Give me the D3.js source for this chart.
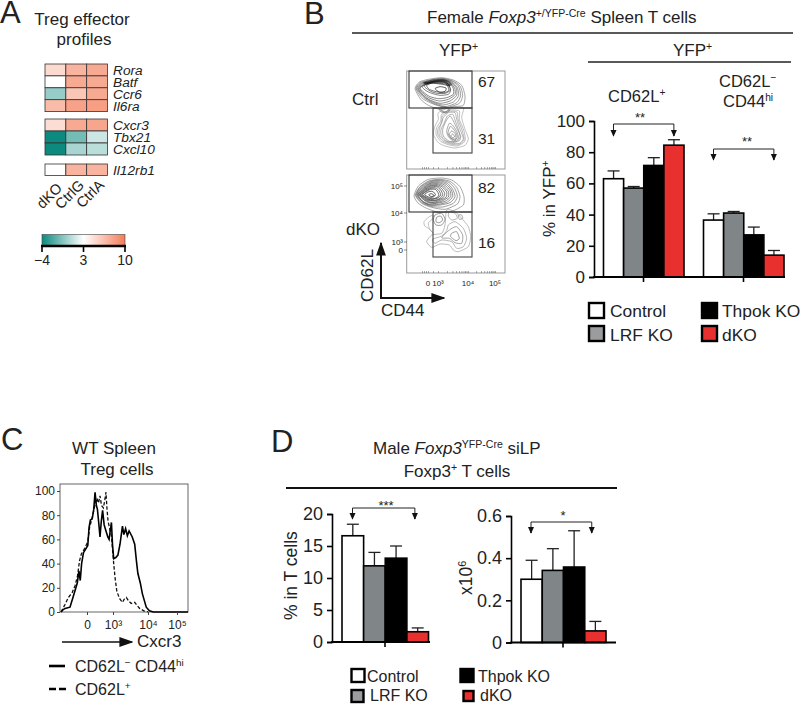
<!DOCTYPE html>
<html><head><meta charset="utf-8">
<script src="https://cdn.jsdelivr.net/npm/d3@7"></script>
<style>
html,body{margin:0;padding:0;background:#fff}
svg{display:block}
text{font-family:"Liberation Sans",Arial,sans-serif;fill:#222}
</style></head><body>
<div id="chart"></div>
<script>
// ---------- Data ----------
const heatGenes = ["Rora","Batf","Ccr6","Il6ra","Cxcr3","Tbx21","Cxcl10","Il12rb1"];
const heatGroups = [[0,1,2,3],[4,5,6],[7]];
const heatSamples = ["dKO","CtrlG","CtrlA"];
const heatValues = [[5,7,7.6],[3,7.6,7.6],[0,6,7.6],[6.6,8,8.2],[4.8,7.6,7.8],[-4,-1,1.5],[-4,0.5,1],[3,7,7]];
const colorTicks = [-4,3,10];

const genotypes = ["Control","LRF KO","Thpok KO","dKO"];
const barColors = ["#ffffff","#808587","#000000","#e8302e"];
const bCD62Lpos = [63,57,71.5,84.5];
const bCD62LposErr = [68,58,76.5,88];
const bCD62Lneg = [36.5,41,27,14];
const bCD62LnegErr = [40.5,42,32,17];
const bTicks = [0,20,40,60,80,100];
const dPct = [16.6,11.9,13.1,1.6];
const dPctErr = [18.4,14,15,2.2];
const dPctTicks = [0,5,10,15,20];
const dCount = [0.30,0.342,0.358,0.055];
const dCountErr = [0.39,0.445,0.53,0.10];
const dCountTicks = [0,0.2,0.4,0.6];

const histSolid = [[-.96,0],[-.88,2],[-.81,3],[-.63,4],[-.52,12],[-.44,18],[-.36,24],[-.3,34],[-.25,26],[-.2,40],[-.13,49],[-.05,52],[.03,55],[.08,70],[.13,76],[.2,77],[.26,85],[.31,99],[.36,88],[.4,85],[.45,74],[.5,62],[.55,75],[.6,84],[.66,72],[.73,67],[.8,62],[.85,60],[.9,68],[.94,74],[.98,56],[1.02,44],[1.08,45],[1.14,47],[1.2,56],[1.27,71],[1.31,64],[1.36,69],[1.41,63],[1.46,67],[1.55,62],[1.62,56],[1.67,42],[1.71,32],[1.78,24],[1.84,15],[1.9,9],[1.95,4],[2.05,1],[2.18,0],[3.41,0]];
const histDashed = [[-.96,0],[-.82,6],[-.69,12],[-.55,16],[-.44,22],[-.35,30],[-.28,42],[-.21,48],[-.1,52],[.03,58],[.1,70],[.19,77],[.28,86],[.38,94],[.44,90],[.5,96],[.56,88],[.63,86],[.68,92],[.73,99],[.77,85],[.81,75],[.88,68],[.94,63],[.98,52],[1.02,40],[1.06,28],[1.11,17],[1.19,11],[1.27,8],[1.33,11],[1.38,12],[1.45,9],[1.52,7],[1.62,8],[1.7,5],[1.76,3],[1.88,1],[2,0]];
const histYTicks = [0,20,40,60,80,100];
const histXTicks = [0,1,2,3];
const histXLabels = ["0","10³","10⁴","10⁵"];

const facsMinor = [-.6,-.4,-.2,0,.5,1,1.3,1.48,1.6,1.7,1.78,1.85,1.9,1.95,2,2.3,2.48,2.6,2.7,2.78,2.85,2.9,2.95,3];
const facsTickLabels = ["0","10³","10⁴","10⁵"];
const ctrlUpper = [
 [[45,68],[58,48],[85,40],[125,35],[160,42],[185,58],[195,90],[190,118],[160,122],[120,130],[85,118],[62,100]],
 [[48,68],[60,50],[88,42],[125,37],[157,44],[180,60],[188,88],[178,112],[140,124],[105,116],[68,98]],
 [[50,68],[62,52],[90,43],[125,38],[155,45],[175,60],[182,88],[170,110],[135,122],[100,112],[72,95]],
 [[53,68],[65,53],[93,45],[125,40],[152,46],[171,63],[176,88],[160,108],[128,117],[95,107],[71,91]],
 [[55,68],[68,54],[95,46],[125,41],[150,47],[168,65],[170,88],[150,105],[120,112],[90,102],[70,88]],
 [[58,67],[72,55],[98,46],[126,42],[149,48],[164,67],[165,86],[145,100],[118,105],[90,97],[71,84]],
 [[60,66],[75,55],[100,47],[127,43],[148,50],[160,68],[160,85],[140,95],[115,98],[90,92],[72,80]],
 [[66,62],[85,52],[110,46],[130,46],[145,55],[152,72],[145,85],[120,88],[95,82],[78,74]],
 [[72,60],[95,50],[120,47],[138,50],[148,62],[150,74],[135,82],[112,82],[92,76]],
 [[80,58],[105,48],[132,48],[143,60],[146,74],[130,80],[105,76],[88,70]],
 [[70,50],[100,42],[135,42],[155,55],[130,50],[100,48]],
 [[72,52],[100,45],[135,45],[152,58],[130,53],[100,50]],
 [[76,54],[102,46],[134,46],[150,60],[128,55],[100,52]],
 [[105,68],[120,62],[138,66],[135,76],[118,78]]
];
const ctrlLower = [
 [[105,180],[100,205],[115,230],[135,240],[165,246],[195,238],[205,218],[195,190],[185,155],[190,125],[150,125],[115,140],[115,160]],
 [[110,185],[108,205],[122,226],[145,236],[172,240],[195,225],[192,195],[178,160],[178,135],[150,132],[125,145],[122,165]],
 [[114,188],[113,206],[128,225],[150,234],[175,236],[192,222],[186,192],[174,160],[171,138],[148,136],[127,150],[126,168]],
 [[118,190],[118,208],[135,225],[155,232],[178,232],[190,218],[180,190],[170,160],[165,140],[145,140],[130,155]],
 [[123,190],[124,209],[141,226],[163,229],[180,222],[178,200],[165,162],[158,145],[142,150],[134,168]],
 [[128,190],[130,210],[148,226],[170,226],[182,212],[172,190],[160,165],[150,150],[138,165]],
 [[140,195],[145,212],[160,225],[175,218],[172,200],[160,180],[148,172]],
 [[144,200],[150,215],[164,222],[172,214],[168,200],[158,186],[150,182]],
 [[148,205],[155,218],[168,218],[165,202],[155,195]],
 [[152,210],[158,215],[164,212],[158,204]],
 [[118,128],[135,122],[150,130],[140,140],[124,138]],
 [[122,130],[135,126],[146,131],[138,137],[127,136]]
];
const dkoUpper = [
 [[42,78],[55,48],[85,28],[125,24],[155,30],[180,50],[192,80],[190,105],[160,122],[120,128],[80,115],[55,100]],
 [[46,76],[60,50],[88,32],[122,28],[150,34],[170,52],[180,80],[172,102],[135,118],[95,112],[65,100]],
 [[48,76],[60,52],[89,34],[120,30],[146,37],[164,55],[172,80],[160,100],[128,111],[92,109],[66,98]],
 [[50,75],[62,54],[90,36],[118,32],[142,40],[158,58],[165,80],[150,98],[120,105],[90,106],[68,96]],
 [[52,74],[64,56],[90,39],[116,35],[139,43],[154,60],[158,80],[142,96],[115,103],[88,104],[67,94]],
 [[54,74],[66,58],[90,41],[115,38],[135,46],[150,62],[152,80],[135,94],[110,100],[85,102],[66,92]],
 [[56,74],[68,59],[90,44],[113,41],[131,49],[145,64],[145,81],[126,93],[102,99],[80,96]],
 [[58,74],[70,60],[90,47],[112,44],[128,52],[140,66],[138,82],[118,92],[95,98],[74,90]],
 [[60,74],[72,61],[91,49],[111,47],[125,56],[134,70],[129,83],[109,92],[88,93],[77,89]],
 [[62,74],[74,62],[92,52],[110,50],[122,60],[128,74],[120,85],[100,92],[80,88]],
 [[65,74],[76,64],[92,55],[108,54],[118,64],[122,76],[111,85],[92,89],[82,86]],
 [[68,74],[78,65],[92,58],[106,58],[114,68],[116,78],[102,86],[84,84]],
 [[74,74],[84,66],[96,64],[106,72],[102,80],[88,82]],
 [[86,74],[94,71],[102,76],[94,80]]
];
const dkoLower = [
 [[72,155],[85,142],[100,135],[95,150],[85,158],[88,175],[100,190],[85,175],[74,168]],
 [[140,120],[165,125],[185,145],[205,170],[212,200],[205,230],[175,245],[160,240],[148,225],[120,222],[95,232],[80,215],[95,195],[125,190],[135,165]],
 [[145,165],[165,155],[190,175],[200,205],[190,230],[170,235],[155,215],[125,210],[105,220],[98,208],[125,198],[140,182]],
 [[148,125],[165,130],[172,145],[155,150],[145,138]],
 [[175,135],[185,135],[188,145],[178,148]],
 [[148,180],[170,170],[188,195],[185,220],[165,218],[148,205],[125,203]],
 [[155,190],[170,185],[178,205],[168,212],[152,200]],
 [[105,135],[125,130],[135,148],[125,165],[108,165],[100,150]],
 [[110,142],[122,138],[128,150],[118,158],[108,155]]
];

// ---------- Helpers ----------
const svg = d3.select("#chart").append("svg").attr("width",800).attr("height",704).attr("viewBox","0 0 800 704");
const defs = svg.append("defs");
function addText(x,y,parts,size,opt={}){
  const t = svg.append("text").attr("x",x).attr("y",y).attr("font-size",size)
    .attr("text-anchor",opt.anchor||"start");
  if(opt.rotate!==undefined) t.attr("transform",`rotate(${opt.rotate} ${x} ${y})`);
  if(opt.italic) t.attr("font-style","italic");
  (Array.isArray(parts)?parts:[parts]).forEach(p=>{
    if(typeof p==="string"){ t.append("tspan").text(p); return; }
    const s = t.append("tspan").text(p.t);
    if(p.i) s.attr("font-style","italic");
    if(p.sup){ s.attr("font-size",size*0.62).attr("dy",-size*0.36); }
    if(p.base){ s.attr("dy",size*0.36); }
  });
  return t;
}
function hline(x1,x2,y,w=1.5,c="#222"){svg.append("line").attr("x1",x1).attr("x2",x2).attr("y1",y).attr("y2",y).attr("stroke",c).attr("stroke-width",w);}
defs.append("marker").attr("id","ah").attr("viewBox","0 0 10 10").attr("refX",9).attr("refY",5)
  .attr("markerWidth",7).attr("markerHeight",7).attr("markerUnits","userSpaceOnUse").attr("orient","auto")
  .append("path").attr("d","M0,0.5L10,5L0,9.5Z").attr("fill","#111");
defs.append("marker").attr("id","ahBig").attr("viewBox","0 0 10 10").attr("refX",9).attr("refY",5)
  .attr("markerWidth",14).attr("markerHeight",14).attr("markerUnits","userSpaceOnUse").attr("orient","auto")
  .append("path").attr("d","M0,1.5L10,5L0,8.5Z").attr("fill","#111");

// ---------- Panel letters ----------
addText(0,23,"A",31); addText(304,24,"B",31); addText(1,450,"C",31); addText(271,452,"D",31);

// ---------- A: heat map ----------
addText(82,25,"Treg effector",17,{anchor:"middle"});
addText(84,45,"profiles",17,{anchor:"middle"});
const heatColor = d3.scaleLinear().domain([-4,3,10]).range(["#0c8a7f","#ffffff","#f47c58"]);
const heatX = d3.scaleBand().domain(heatSamples).range([45,107.5]);
const groupTop = [64,119,164], rowH = [11.9,12,11.5];
heatGroups.forEach((rows,gi)=>{
  const y = d3.scaleBand().domain(rows).range([groupTop[gi],groupTop[gi]+rows.length*rowH[gi]]);
  rows.forEach(r=>{
    heatSamples.forEach((s,c)=>{
      svg.append("rect").attr("x",heatX(s)).attr("y",y(r)).attr("width",heatX.bandwidth()).attr("height",y.bandwidth())
        .attr("fill",heatColor(heatValues[r][c])).attr("stroke","#333").attr("stroke-width",0.8);
    });
    addText(113,y(r)+y.bandwidth()/2+5,heatGenes[r],13.7,{italic:true});
  });
});
[[63,189],[85,186],[105,186]].forEach((p,i)=>addText(p[0],p[1],heatSamples[i],14.5,{anchor:"end",rotate:-45}));
const lg = defs.append("linearGradient").attr("id","cbar");
[[0,"#0c8a7f"],[0.5,"#ffffff"],[1,"#f47c58"]].forEach(s=>lg.append("stop").attr("offset",s[0]).attr("stop-color",s[1]));
svg.append("rect").attr("x",42).attr("y",234.5).attr("width",83).attr("height",11.5).attr("fill","url(#cbar)").attr("stroke","#444").attr("stroke-width",.6);
hline(41,126,246,2.4,"#000");
const cbTickPos = d3.scalePoint().domain(colorTicks).range([42,125]);
colorTicks.forEach(t=>{
  const x = cbTickPos(t);
  svg.append("line").attr("x1",x).attr("x2",x).attr("y1",246).attr("y2",252).attr("stroke","#000").attr("stroke-width",1.6);
  addText(x,265,t<0?"−"+Math.abs(t):String(t),14,{anchor:"middle"});
});

// ---------- B: header ----------
addText(427,23,["Female ",{t:"Foxp3",i:true},{t:"+/YFP-Cre",sup:true},{t:" Spleen T cells",base:true}],17);
hline(352,793,33,1.6);
addText(439,56,["YFP",{t:"+",sup:true}],17);
addText(673,56,["YFP",{t:"+",sup:true}],17);
hline(588,791,62,1.6);
addText(352,105,"Ctrl",17);
addText(346,235,"dKO",17);

// ---------- B: contour plots ----------
const facsX = d3.scaleLinear().domain([20,315]).range([406.7,505]);
const facsDecX = d3.scaleLinear().domain([-1,0,1,2,3]).range([418,428,438,468,495]);
[{top:71,upper:ctrlUpper,lower:ctrlLower,gateSplit:108,gateBottom:153},{top:175,upper:dkoUpper,lower:dkoLower,gateSplit:212,gateBottom:257}].forEach(p=>{
  const sy = d3.scaleLinear().domain([15,309]).range([p.top,p.top+98]);
  svg.append("rect").attr("x",406.7).attr("y",p.top).attr("width",98.3).attr("height",98).attr("fill","#fff").attr("stroke","#999").attr("stroke-width",1);
  const line = d3.line().x(d=>facsX(d[0])).y(d=>sy(d[1])).curve(d3.curveCardinalClosed.tension(0.35));
  svg.append("g").selectAll("path").data(p.lower).join("path").attr("d",line).attr("fill","none")
    .attr("stroke",(d,i)=>d3.interpolateRgb("#999","#444")(i/p.lower.length)).attr("stroke-width",.6);
  svg.append("g").selectAll("path").data(p.upper).join("path").attr("d",line).attr("fill","none")
    .attr("stroke",(d,i)=>d3.interpolateRgb("#777","#000")(i/p.upper.length)).attr("stroke-width",.65);
  svg.append("rect").attr("x",409).attr("y",p.top).attr("width",63).attr("height",p.gateSplit-p.top).attr("fill","none").attr("stroke","#333").attr("stroke-width",1.1);
  svg.append("rect").attr("x",433).attr("y",p.gateSplit).attr("width",39).attr("height",p.gateBottom-p.gateSplit).attr("fill","none").attr("stroke","#444").attr("stroke-width",1.1);
  svg.append("g").attr("transform",`translate(0,${p.top+98})`).call(d3.axisTop(facsDecX).tickValues(facsMinor).tickSize(2).tickFormat(""))
    .call(g=>g.select(".domain").remove()).selectAll("line").attr("stroke","#555").attr("stroke-width",.5);
});
[["67",87],["31",144],["82",193],["16",248]].forEach(d=>addText(478,d[1],d[0],15.5));
[0,1,2,3].forEach(i=>addText(facsDecX(i),286,facsTickLabels[i],8,{anchor:"middle"}));
const facsDecY = d3.scaleLinear().domain([0,1,2,3]).range([250,242,213,186]);
[0,1,2,3].forEach(i=>{
  addText(403,facsDecY(i)+3,facsTickLabels[i],8,{anchor:"end"});
  svg.append("line").attr("x1",404).attr("x2",407).attr("y1",facsDecY(i)).attr("y2",facsDecY(i)).attr("stroke","#444").attr("stroke-width",.6);
});
svg.append("line").attr("x1",381).attr("y1",299).attr("x2",381).attr("y2",243).attr("stroke","#111").attr("stroke-width",2).attr("marker-end","url(#ahBig)");
svg.append("line").attr("x1",380).attr("y1",298).attr("x2",444).attr("y2",298).attr("stroke","#111").attr("stroke-width",2).attr("marker-end","url(#ahBig)");
addText(373,302,"CD62L",17,{rotate:-90});
addText(381,316,"CD44",17);

// ---------- bar helpers ----------
const idx = [0,1,2,3];
function barGroup(x,y,values,errs){
  const g = svg.append("g");
  values.forEach((v,i)=>{
    const cx = x(i)+x.bandwidth()/2;
    g.append("line").attr("x1",cx).attr("x2",cx).attr("y1",y(v)).attr("y2",y(errs[i])).attr("stroke","#222").attr("stroke-width",1.3);
    g.append("line").attr("x1",cx-6).attr("x2",cx+6).attr("y1",y(errs[i])).attr("y2",y(errs[i])).attr("stroke","#222").attr("stroke-width",1.3);
    g.append("rect").attr("x",x(i)).attr("y",y(v)).attr("width",x.bandwidth()).attr("height",y(0)-y(v))
      .attr("fill",barColors[i]).attr("stroke","#000").attr("stroke-width",1.6);
  });
}
function bracket(x1,x2,y,yEnd,stars,sy,sx){
  svg.append("path").attr("d",`M${x1},${yEnd}V${y}H${x2}V${yEnd}`).attr("fill","none").attr("stroke","#222").attr("stroke-width",1);
  [x1,x2].forEach(x=>svg.append("line").attr("x1",x).attr("x2",x).attr("y1",yEnd-4).attr("y2",yEnd).attr("stroke","#111").attr("marker-end","url(#ah)"));
  addText(sx,sy,stars,13,{anchor:"middle"});
}
function leftAxis(y,x0,ticks,fmt,size,xEnd){
  const g = svg.append("g").attr("transform",`translate(${x0},0)`)
    .call(d3.axisLeft(y).tickValues(ticks).tickSize(5).tickPadding(4).tickFormat(fmt));
  g.selectAll("path,line").attr("stroke","#000").attr("stroke-width",1.6);
  g.selectAll("text").attr("font-size",size).attr("font-family","Liberation Sans");
  hline(x0-.8,xEnd,y(0),1.8,"#000");
}
function groupTick(x,y){svg.append("line").attr("x1",x).attr("x2",x).attr("y1",y).attr("y2",y+5).attr("stroke","#000").attr("stroke-width",1.6);}
function legendBox(x,y,w,h,c,label,tx,ty,size){
  svg.append("rect").attr("x",x).attr("y",y).attr("width",w).attr("height",h).attr("fill",c).attr("stroke","#000").attr("stroke-width",2.4);
  addText(tx,ty,label,size);
}

// ---------- B: bars ----------
const byScale = d3.scaleLinear().domain([0,100]).range([277,121]);
const bx1 = d3.scaleBand().domain(idx).range([603.5,684]);
const bx2 = d3.scaleBand().domain(idx).range([703.5,784]);
barGroup(bx1,byScale,bCD62Lpos,bCD62LposErr);
barGroup(bx2,byScale,bCD62Lneg,bCD62LnegErr);
leftAxis(byScale,594,bTicks,d3.format("d"),17,785);
groupTick(643.5,277); groupTick(743.5,277);
addText(555,237,["% in YFP",{t:"+",sup:true}],17,{rotate:-90});
addText(608,102,["CD62L",{t:"+",sup:true}],16.5);
addText(719,87,["CD62L",{t:"−",sup:true}],16.5);
addText(723,107,["CD44",{t:"hi",sup:true}],16.5);
bracket(bx1(0)+10,bx1(3)+10,124,136,"**",122,640);
bracket(bx2(0)+10,bx2(3)+10,149,160,"**",146,747);
const bLegendSlots = [[589,303,610,317],[589,326,610,341],[702,303,722,317],[702,326,722,341]];
const legendFillB = ["#ffffff","#9a9c9e","#000000","#e8302e"];
genotypes.forEach((g,i)=>{const s=bLegendSlots[i];legendBox(s[0],s[1],15,15,legendFillB[i],g,s[2],s[3],17.4);});

// ---------- C: histogram ----------
addText(114,454,"WT Spleen",17,{anchor:"middle"});
addText(117,475,"Treg cells",17,{anchor:"middle"});
const hx = d3.scaleLinear().domain([-1,0,1,2,3,3.41]).range([60,87,113,148,177,188]);
const hy = d3.scaleLinear().domain([0,100]).range([612,491]);
svg.append("rect").attr("x",60).attr("y",484).attr("width",128).attr("height",128).attr("fill","#fff").attr("stroke","#555").attr("stroke-width",.9);
const hLine = d3.line().x(d=>hx(d[0])).y(d=>hy(d[1]));
svg.append("path").attr("d",hLine(histDashed)).attr("fill","none").attr("stroke","#111").attr("stroke-width",1.3).attr("stroke-dasharray","3.5,2");
svg.append("path").attr("d",hLine(histSolid)).attr("fill","none").attr("stroke","#000").attr("stroke-width",1.6);
const hya = svg.append("g").attr("transform","translate(60,0)").call(d3.axisLeft(hy).tickValues(histYTicks).tickSize(3).tickPadding(2));
hya.select(".domain").remove();
hya.selectAll("line").attr("stroke","#444");
hya.selectAll("text").attr("font-size",12).attr("font-family","Liberation Sans");
const hxa = svg.append("g").attr("transform","translate(0,612)").call(d3.axisBottom(hx).tickValues(histXTicks).tickSize(3).tickPadding(5).tickFormat((d,i)=>histXLabels[i]));
hxa.select(".domain").remove();
hxa.selectAll("line").attr("stroke","#444");
hxa.selectAll("text").attr("font-size",12).attr("font-family","Liberation Sans");
svg.append("line").attr("x1",62).attr("x2",132).attr("y1",642).attr("y2",642).attr("stroke","#111").attr("stroke-width",1.3).attr("marker-end","url(#ahBig)");
addText(137,647,"Cxcr3",17);
hline(49,65,666,2.6,"#000");
addText(75,672,["CD62L",{t:"−",sup:true},{t:" CD44",base:true},{t:"hi",sup:true}],16);
svg.append("line").attr("x1",49).attr("x2",66).attr("y1",689).attr("y2",689).attr("stroke","#000").attr("stroke-width",2.6).attr("stroke-dasharray","7,3");
addText(75,695,["CD62L",{t:"+",sup:true}],16);

// ---------- D: header ----------
addText(373,454,["Male ",{t:"Foxp3",i:true},{t:"YFP-Cre",sup:true},{t:" siLP",base:true}],17);
addText(457,477,["Foxp3",{t:"+",sup:true},{t:" T cells",base:true}],17,{anchor:"middle"});
hline(286,617,488,2.2,"#111");

// ---------- D: bars ----------
const dy1 = d3.scaleLinear().domain([0,20]).range([642,514]);
const dy2 = d3.scaleLinear().domain([0,0.6]).range([642.5,516]);
const dx1 = d3.scaleBand().domain(idx).range([342,428.5]);
const dx2 = d3.scaleBand().domain(idx).range([521,606]);
barGroup(dx1,dy1,dPct,dPctErr);
barGroup(dx2,dy2,dCount,dCountErr);
leftAxis(dy1,332,dPctTicks,d3.format("d"),18,430);
leftAxis(dy2,511,dCountTicks,d=>d===0?"0":d3.format(".1f")(d),18,616);
groupTick(385,642); groupTick(563,642.5);
addText(297,620,"% in T cells",17.5,{rotate:-90});
addText(472,595,["x10",{t:"6",sup:true}],17.5,{rotate:-90});
bracket(dx1(0)+10.5,dx1(3)+8,508,519,"***",510,386);
bracket(dx2(0)+10,dx2(3)+7,522,533,"*",520,563);
const dLegendSlots = [[351.5,669,13,13,367,682],[351.5,690,12,12,370,701],[460.5,669,13,13,478,682],[463.5,691,10,10,480,701]];
genotypes.forEach((g,i)=>{const s=dLegendSlots[i];legendBox(s[0],s[1],s[2],s[3],legendFillB[i],g,s[4],s[5],16);});
</script>
</body></html>
